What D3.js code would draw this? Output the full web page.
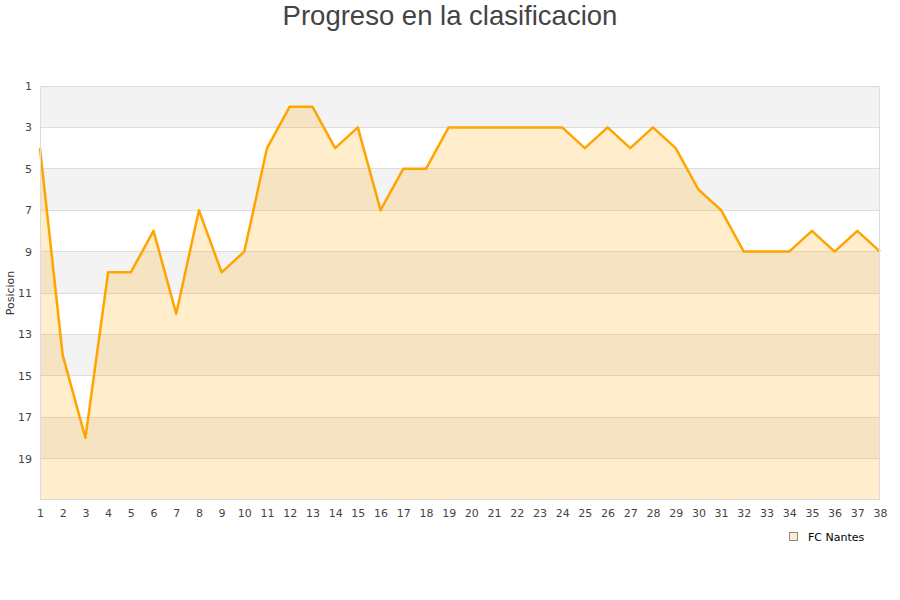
<!DOCTYPE html>
<html><head><meta charset="utf-8">
<script src="https://cdn.jsdelivr.net/npm/d3@7"></script>
<style>body{margin:0;background:#fff;font-family:"DejaVu Sans",sans-serif;}</style>
</head><body><svg id="c" width="900" height="600"></svg>
<script>
const jornadas = d3.range(1, 39);
const posiciones = [4,14,18,10,10,8,12,7,10,9,4,2,2,4,3,7,5,5,3,3,3,3,3,3,4,3,4,3,4,6,7,9,9,9,8,9,8,9];
const yTicks = [1,3,5,7,9,11,13,15,17,19];
const title = "Progreso en la clasificacion";
const seriesName = "FC Nantes";
const yLabel = "Posicion";

const svg = d3.select("#c");
const m = {l:40, r:880, t:86, b:500};
const x = d3.scaleLinear().domain([1,38]).range([m.l, m.r]);
const y = d3.scaleLinear().domain([1,21]).range([m.t, m.b]);

// bands
const bands = d3.range(1, 21, 2);
svg.append("g").selectAll("rect").data(bands).join("rect")
  .attr("x", m.l).attr("width", m.r - m.l)
  .attr("y", d => y(d)).attr("height", d => y(d+2) - y(d))
  .attr("fill", (d,i) => i % 2 === 0 ? "#f3f3f3" : "#ffffff");

// grid lines
svg.append("g").selectAll("line").data(yTicks).join("line")
  .attr("x1", m.l).attr("x2", m.r)
  .attr("y1", d => y(d)).attr("y2", d => y(d))
  .attr("stroke", "#dddddd").attr("stroke-width", 1).attr("shape-rendering","crispEdges");

// area
const data = jornadas.map((j,i) => ({j, p: posiciones[i]}));
svg.append("path").datum(data)
  .attr("d", d3.area().x(d => x(d.j)).y0(y(21)).y1(d => y(d.p)))
  .attr("fill", "rgba(255,165,0,0.2)");
svg.append("path").datum(data)
  .attr("d", d3.line().x(d => x(d.j)).y(d => y(d.p)))
  .attr("fill", "none").attr("stroke", "#ffa500").attr("stroke-width", 2.5)
  .attr("stroke-linejoin","round");

// border
svg.append("rect").attr("x", m.l+0.5).attr("y", m.t+0.5)
  .attr("width", m.r - m.l - 1).attr("height", m.b - m.t - 1)
  .attr("fill","none").attr("stroke","#dddddd");

// y axis labels
const yAxis = d3.axisLeft(y).tickValues(yTicks).tickSize(0).tickPadding(8);
const gy = svg.append("g").attr("transform", `translate(${m.l},0)`).call(yAxis);
gy.select(".domain").remove();
gy.selectAll("text").attr("font-size", 11).attr("fill", "#444").attr("font-family","DejaVu Sans, sans-serif");

// x axis labels
const xAxis = d3.axisBottom(x).tickValues(jornadas).tickSize(0).tickPadding(9).tickFormat(d3.format("d"));
const gx = svg.append("g").attr("transform", `translate(0,${m.b})`).call(xAxis);
gx.select(".domain").remove();
gx.selectAll("text").attr("font-size", 11).attr("fill", "#444").attr("font-family","DejaVu Sans, sans-serif");

// title
svg.append("text").attr("x", 450).attr("y", 25).attr("text-anchor","middle")
  .attr("font-size", 27.5).attr("fill","#444").attr("font-family","Liberation Sans, Arial, sans-serif")
  .text(title);

// y label
svg.append("text").attr("transform","translate(14,293) rotate(-90)")
  .attr("text-anchor","middle").attr("font-size", 11).attr("fill","#333")
  .text(yLabel);

// legend
svg.append("rect").attr("x", 789.5).attr("y", 532.5).attr("width", 8).attr("height", 8)
  .attr("fill","#ffecc8").attr("stroke","#888");
svg.append("text").attr("x", 808).attr("y", 540.5).attr("font-size", 11).attr("fill","#000")
  .text(seriesName);
</script></body></html>
